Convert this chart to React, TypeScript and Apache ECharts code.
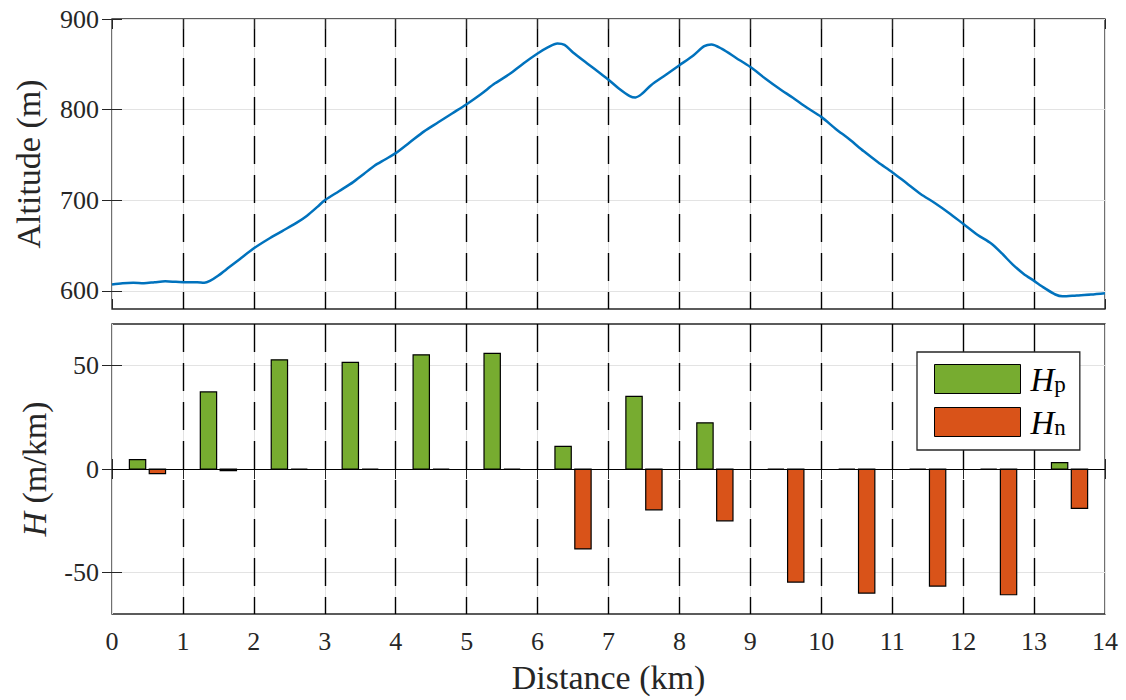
import React, { useEffect, useRef } from "react";
import * as echarts from "echarts";

// ---- Data ----
const distKm = [
  0.0, 0.15, 0.3, 0.45, 0.6, 0.75, 0.9, 1.05, 1.2, 1.3, 1.38, 1.5, 1.65, 1.8, 2.0, 2.2, 2.4, 2.6, 2.75, 2.9,
  3.0, 3.2, 3.4, 3.55, 3.7, 3.85, 4.0, 4.2, 4.4, 4.6, 4.8, 5.0, 5.2, 5.4, 5.6, 5.8, 6.0, 6.15, 6.28, 6.38,
  6.5, 6.7, 6.9, 7.0, 7.15, 7.3, 7.38, 7.48, 7.6, 7.8, 8.0, 8.2, 8.35, 8.45, 8.6, 8.8, 9.0, 9.2, 9.4, 9.6,
  9.8, 10.0, 10.2, 10.4, 10.6, 10.8, 11.0, 11.2, 11.4, 11.6, 11.8, 12.0, 12.2, 12.4, 12.55, 12.7, 12.85, 13.0, 13.15, 13.3,
  13.4, 13.6, 13.8, 14.0,
];
const altitudeM = [
  607, 608.5, 609, 608.5, 609.5, 610.5, 610, 609.5, 609.5, 609, 611, 617, 626, 635, 647, 657, 666, 675, 683, 693,
  700, 710, 720, 729, 738, 745, 752, 764, 776, 786, 796, 806, 817, 829, 839, 851, 862, 869, 873, 871.5,
  863, 851, 839, 833, 823, 815, 813.5, 818, 827, 838, 849, 860, 870, 872, 867, 857, 847, 835, 823.6, 813,
  802, 792, 779, 767, 754, 742, 731, 719, 707, 697, 686, 674, 662, 652, 641, 629, 619, 611, 603, 596,
  594, 595, 596, 597.5,
];

const segmentStartKm = [0, 1, 2, 3, 4, 5, 6, 7, 8, 9, 10, 11, 12, 13];
const hPositive = [4.5, 37.2, 52.7, 51.5, 55.1, 55.8, 10.9, 35.1, 22.3, 0, 0, 0, 0, 3.1];
const hNegative = [-2.2, -0.8, 0, 0, 0, 0, -38.6, -19.7, -25, -54.6, -59.9, -56.5, -60.7, -19];

const altTicks = [600, 700, 800, 900];
const hTicks = [-50, 0, 50];

// ---- Styles ----
const FONT = "Liberation Serif";
const AX = "#262626";
const GRIDC = "#e3e3e3";
const GREEN = "#77AC30";
const ORANGE = "#D95319";
const BLUE = "#0072BD";
const BAR_W = 0.23;

export default function App() {
  const ref = useRef<HTMLDivElement>(null);

  useEffect(() => {
    if (!ref.current) return;
    const chart = echarts.init(ref.current, null, { renderer: "svg" });

    const altData = distKm.map((d, i) => [d, altitudeM[i]]);
    const hpData = segmentStartKm.map((k, i) => [k + 0.36, hPositive[i]]);
    const hnData = segmentStartKm.map((k, i) => [k + 0.64, hNegative[i]]);

    const renderBar = (params: any, api: any) => {
      const x = api.value(0);
      const v = api.value(1);
      const a = api.coord([x - BAR_W / 2, 0]);
      const b = api.coord([x + BAR_W / 2, v]);
      return {
        type: "rect",
        shape: {
          x: a[0],
          y: Math.min(a[1], b[1]),
          width: b[0] - a[0],
          height: Math.abs(b[1] - a[1]),
        },
        style: { fill: api.visual("color"), stroke: "#000", lineWidth: 1.2 },
      };
    };

    const tickStyle = { show: true, inside: true, length: 10, lineStyle: { color: AX, width: 1 } };
    const labelStyle = { fontFamily: FONT, fontSize: 26, color: AX };
    const nameStyle = { fontFamily: FONT, fontSize: 34, color: AX };

    const xBase = (gi: number, pos: string, dashed: boolean, labels: boolean) => ({
      type: "value",
      gridIndex: gi,
      position: pos,
      min: 0,
      max: 14,
      interval: 1,
      z: dashed ? 1 : 0,
      axisLine: { show: false },
      axisTick: tickStyle,
      axisLabel: labels ? { ...labelStyle, margin: 14 } : { show: false },
      splitLine: dashed
        ? {
            show: true,
            showMinLine: false,
            showMaxLine: false,
            lineStyle: { color: "#000", width: 1.4, type: [28, 11] },
          }
        : { show: true, lineStyle: { color: GRIDC, width: 1 } },
    });

    const yBase = (gi: number, pos: string, min: number, max: number, ticks: number[], main: boolean) => ({
      type: "value",
      gridIndex: gi,
      position: pos,
      min,
      max,
      axisLine: { show: false },
      axisTick: { ...tickStyle, customValues: ticks },
      axisLabel: main ? { ...labelStyle, margin: 13, customValues: ticks } : { show: false, customValues: ticks },
      splitLine: main ? { show: true, lineStyle: { color: GRIDC, width: 1 } } : { show: false },
    });

    chart.setOption({
      animation: false,
      backgroundColor: "#fff",
      textStyle: { fontFamily: FONT },
      grid: [
        { left: 112, top: 19, width: 993, height: 290, show: true, borderColor: AX, borderWidth: 1.3, backgroundColor: "transparent" },
        { left: 112, top: 324, width: 993, height: 290, show: true, borderColor: AX, borderWidth: 1.3, backgroundColor: "transparent" },
      ],
      xAxis: [
        xBase(0, "bottom", false, false),
        xBase(0, "top", true, false),
        {
          ...xBase(1, "bottom", false, true),
          name: "Distance (km)",
          nameLocation: "middle",
          nameGap: 46,
          nameTextStyle: nameStyle,
        },
        xBase(1, "top", true, false),
      ],
      yAxis: [
        {
          ...yBase(0, "left", 580, 900, altTicks, true),
          name: "Altitude (m)",
          nameLocation: "middle",
          nameGap: 67,
          nameTextStyle: nameStyle,
        },
        yBase(0, "right", 580, 900, altTicks, false),
        {
          ...yBase(1, "left", -70, 70, hTicks, true),
          name: "{i|H} (m/km)",
          nameLocation: "middle",
          nameGap: 61,
          nameTextStyle: {
            ...nameStyle,
            rich: { i: { fontFamily: FONT, fontSize: 34, fontStyle: "italic", color: AX } },
          },
        },
        yBase(1, "right", -70, 70, hTicks, false),
      ],
      legend: {
        orient: "vertical",
        left: 917,
        top: 352,
        padding: [11, 14, 11, 17],
        itemWidth: 86,
        itemHeight: 29,
        itemGap: 10,
        backgroundColor: "#fff",
        borderColor: AX,
        borderWidth: 1.3,
        borderRadius: 0,
        data: [
          { name: "Hp", icon: "rect", itemStyle: { color: GREEN, borderColor: "#000", borderWidth: 1 } },
          { name: "Hn", icon: "rect", itemStyle: { color: ORANGE, borderColor: "#000", borderWidth: 1 } },
        ],
        formatter: (name: string) => `{i|H}{s|${name.slice(1)}}`,
        textStyle: {
          fontFamily: FONT,
          padding: [0, 0, 0, 5],
          rich: {
            i: { fontFamily: FONT, fontSize: 33, fontStyle: "italic", color: "#000", lineHeight: 34, verticalAlign: "bottom" },
            s: { fontFamily: FONT, fontSize: 23, color: "#000", lineHeight: 8, verticalAlign: "bottom" },
          },
        },
      },
      series: [
        {
          type: "line",
          name: "Altitude",
          xAxisIndex: 0,
          yAxisIndex: 0,
          data: altData,
          showSymbol: false,
          symbol: "none",
          smooth: 0.3,
          lineStyle: { color: BLUE, width: 2.5 },
          itemStyle: { color: BLUE },
          z: 5,
        },
        {
          type: "custom",
          name: "Hp",
          xAxisIndex: 2,
          yAxisIndex: 2,
          data: hpData,
          encode: { x: 0, y: 1 },
          itemStyle: { color: GREEN },
          renderItem: renderBar,
          clip: true,
          z: 3,
        },
        {
          type: "custom",
          name: "Hn",
          xAxisIndex: 2,
          yAxisIndex: 2,
          data: hnData,
          encode: { x: 0, y: 1 },
          itemStyle: { color: ORANGE },
          renderItem: renderBar,
          clip: true,
          z: 3,
          markLine: {
            silent: true,
            symbol: "none",
            label: { show: false },
            lineStyle: { color: "#000", type: "solid", width: 1.2 },
            data: [{ yAxis: 0 }],
          },
        },
      ],
    });

    return () => chart.dispose();
  }, []);

  return (
    <div
      ref={ref}
      style={{ position: "fixed", left: 0, top: 0, width: 1126, height: 700, background: "#fff" }}
    />
  );
}
